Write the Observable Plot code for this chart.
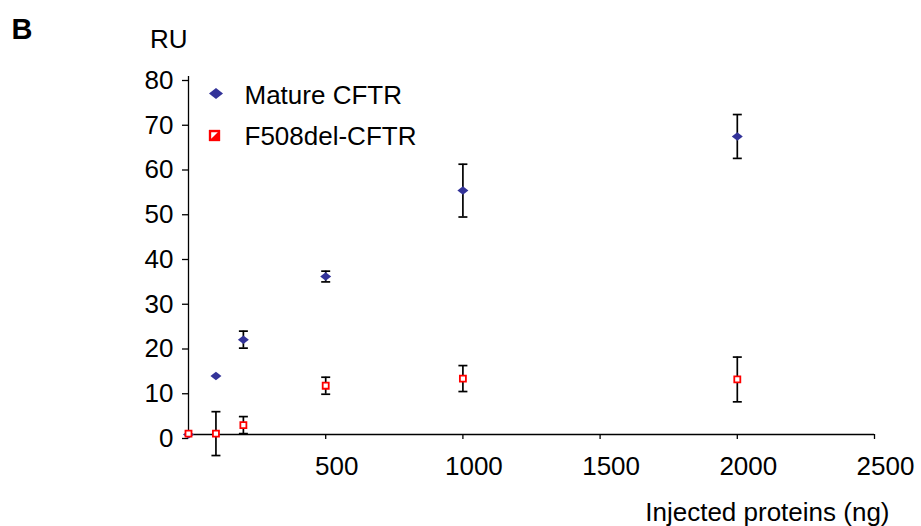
<!DOCTYPE html>
<html>
<head>
<meta charset="utf-8">
<script src="https://cdn.jsdelivr.net/npm/d3@7"></script>
<script src="https://cdn.jsdelivr.net/npm/@observablehq/plot@0.6"></script>
<style>
  html, body { margin: 0; padding: 0; background: white; }
  #chart { width: 921px; height: 526px; }
</style>
</head>
<body>
<div id="chart"></div>
<script>
// ---- data ----
const doses = [0, 100, 200, 500, 1000, 2000];           // injected proteins (ng)
const matureMean = [0, 13.1, 21.2, 35.3, 54.5, 66.6];    // RU
const matureErr  = [0, 0, 1.9, 1.2, 5.9, 4.9];
const f508Mean   = [0.2, 0.2, 2.1, 10.9, 12.5, 12.3];    // RU
const f508Err    = [0, 4.9, 1.9, 1.9, 2.9, 5.0];
const seriesNames = ["Mature CFTR", "F508del-CFTR"];
const xTicks = [500, 1000, 1500, 2000, 2500];
const yTicks = [0, 10, 20, 30, 40, 50, 60, 70, 80];
const panelLabel = "B";
const yLabel = "RU";
const xLabel = "Injected proteins (ng)";

const BLUE = "#333399";
const RED = "#ff0000";

const mature = doses.map((d, i) => ({x: d, y: matureMean[i], e: matureErr[i]}));
const f508 = doses.map((d, i) => ({x: d, y: f508Mean[i], e: f508Err[i]}));
const bars = [...mature, ...f508].filter(d => d.e > 0);

// custom symbols
const diamondSym = {draw(ctx, size) {
  const r = Math.sqrt(size / Math.PI);
  ctx.moveTo(0, -r * 0.85); ctx.lineTo(r * 1.1, 0); ctx.lineTo(0, r * 0.85); ctx.lineTo(-r * 1.1, 0); ctx.closePath();
}};
const capSym = {draw(ctx, size) {
  const r = Math.sqrt(size / Math.PI);
  ctx.moveTo(-r, 0); ctx.lineTo(r, 0);
}};
const halfSquareSym = {draw(ctx, size) {
  const r = Math.sqrt(size / Math.PI);
  ctx.moveTo(-r, -r); ctx.lineTo(r, -r); ctx.lineTo(-r, r); ctx.closePath();
}};

const font = "'Liberation Sans', Arial, Helvetica, sans-serif";

const chart = Plot.plot({
  width: 921,
  height: 526,
  marginLeft: 188,
  marginRight: 47,
  marginTop: 76,
  marginBottom: 92,
  x: {domain: [0, 2500]},
  y: {domain: [0, 80]},
  style: {fontFamily: font, fontSize: "26px", background: "white", color: "black", overflow: "visible"},
  marks: [
    // axis lines
    Plot.ruleX([0], {stroke: "black", strokeWidth: 1.3}),
    Plot.ruleY([0], {stroke: "black", strokeWidth: 1.3}),
    // y axis
    Plot.axisY({ticks: yTicks, tickSize: 6, tickPadding: 9, fontSize: 26, dy: 4, label: null, strokeWidth: 1.3, tickFormat: d => String(d)}),
    // x axis ticks and labels
    Plot.axisX({ticks: xTicks, tickSize: 5, tickFormat: () => "", label: null, strokeWidth: 1.3}),
    Plot.axisX({ticks: xTicks, tickSize: 0, tickPadding: 22, dx: 11, fontSize: 26, label: null, tickFormat: d => String(d)}),
    // error bars
    Plot.ruleX(bars, {x: "x", y1: d => d.y - d.e, y2: d => d.y + d.e, stroke: "black", strokeWidth: 1.7}),
    Plot.dot(bars, {x: "x", y: d => d.y + d.e, symbol: capSym, r: 4.5, stroke: "black", strokeWidth: 1.7}),
    Plot.dot(bars, {x: "x", y: d => d.y - d.e, symbol: capSym, r: 4.5, stroke: "black", strokeWidth: 1.7}),
    // points
    Plot.dot(mature, {x: "x", y: "y", symbol: diamondSym, r: 5, fill: BLUE}),
    Plot.dot(f508, {x: "x", y: "y", symbol: "square", r: 3.4, fill: "white", stroke: RED, strokeWidth: 1.8}),
    // legend
    Plot.dot([0], {frameAnchor: "top-left", dx: 27.5, dy: 17, symbol: diamondSym, r: 6.4, fill: BLUE}),
    Plot.dot([0], {frameAnchor: "top-left", dx: 26, dy: 59, symbol: "square", r: 6.4, fill: RED}),
    Plot.dot([0], {frameAnchor: "top-left", dx: 26, dy: 59, symbol: halfSquareSym, r: 3.3, fill: "white"}),
    Plot.text([seriesNames[0]], {frameAnchor: "top-left", lineAnchor: "middle", text: d => d, dx: 56, dy: 19, textAnchor: "start", fontSize: 26, fill: "black"}),
    Plot.text([seriesNames[1]], {frameAnchor: "top-left", lineAnchor: "middle", text: d => d, dx: 56, dy: 59.7, textAnchor: "start", fontSize: 26, fill: "black"}),
    // axis titles
    Plot.text([yLabel], {frameAnchor: "top-left", lineAnchor: "middle", text: d => d, dx: -1, dy: -37.3, textAnchor: "end", fontSize: 26, fill: "black"}),
    Plot.text([xLabel], {frameAnchor: "bottom-right", lineAnchor: "middle", text: d => d, dx: 15, dy: 77.7, textAnchor: "end", fontSize: 26, fill: "black"}),
    // panel label
    Plot.text([panelLabel], {frameAnchor: "top-left", lineAnchor: "middle", text: d => d, dx: -177, dy: -47, textAnchor: "start", fontSize: 29, fontWeight: "bold", fill: "black"})
  ]
});
document.getElementById("chart").appendChild(chart);
</script>
</body>
</html>
